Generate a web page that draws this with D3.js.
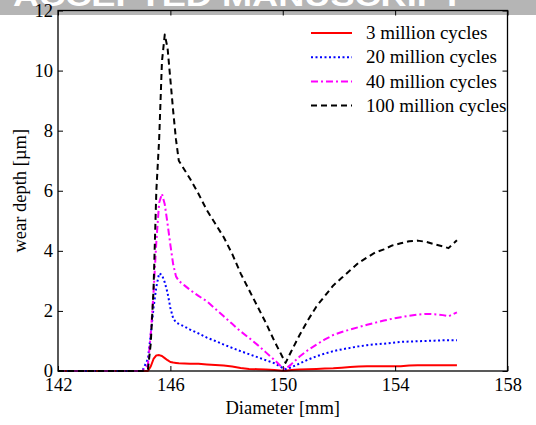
<!DOCTYPE html>
<html>
<head>
<meta charset="utf-8">
<script src="https://cdn.jsdelivr.net/npm/d3@7"></script>
<style>
  html, body { margin: 0; padding: 0; background: #fff; }
  svg { display: block; }
  text { font-family: "Liberation Serif", "Times New Roman", serif; fill: #000; }
</style>
</head>
<body>
<svg id="chart" width="536" height="425"></svg>
<script>
// ---- data ----
const diameter = [142, 145.0, 145.2, 145.3, 145.4, 145.5, 145.6, 145.7, 145.8, 145.9, 146.0, 146.1, 146.2, 146.3, 146.5, 146.7,
  147.0, 147.3, 147.6, 147.9, 148.2, 148.5, 148.8, 149.1, 149.4, 149.7, 150.0, 150.1, 150.3, 150.6, 150.9, 151.2, 151.5,
  151.8, 152.1, 152.4, 152.7, 153.0, 153.3, 153.6, 153.9, 154.2, 154.5, 154.8, 155.1, 155.4, 155.7, 155.9, 156.2];

const wear3M = [0, 0, 0.0, 0.15, 0.4, 0.52, 0.53, 0.5, 0.43, 0.36, 0.3, 0.28, 0.27, 0.26, 0.25, 0.24,
  0.24, 0.22, 0.2, 0.18, 0.15, 0.1, 0.07, 0.06, 0.05, 0.03, 0.01, 0.01, 0.03, 0.05, 0.06, 0.07, 0.08,
  0.09, 0.11, 0.13, 0.15, 0.16, 0.16, 0.16, 0.16, 0.16, 0.18, 0.19, 0.19, 0.19, 0.19, 0.19, 0.19];

const wear20M = [0, 0, 0.4, 1.2, 2.1, 2.8, 3.25, 3.2, 2.95, 2.6, 2.1, 1.75, 1.62, 1.57, 1.48, 1.38,
  1.25, 1.11, 1.0, 0.88, 0.77, 0.66, 0.56, 0.46, 0.36, 0.26, 0.1, 0.06, 0.12, 0.25, 0.38, 0.49, 0.58,
  0.66, 0.72, 0.77, 0.82, 0.86, 0.89, 0.91, 0.94, 0.97, 0.98, 0.99, 1.0, 1.01, 1.02, 1.02, 1.02];

const wear40M = [0, 0, 0.2, 1.2, 2.6, 4.3, 5.6, 5.9, 5.55, 4.9, 4.2, 3.55, 3.15, 3.0, 2.85, 2.7,
  2.5, 2.32, 2.07, 1.82, 1.57, 1.32, 1.1, 0.87, 0.62, 0.37, 0.1, 0.07, 0.22, 0.48, 0.7, 0.88, 1.05,
  1.2, 1.3, 1.38, 1.46, 1.54, 1.61, 1.68, 1.74, 1.79, 1.84, 1.88, 1.9, 1.89, 1.86, 1.82, 1.95];

const wear100M = [0, 0, 0.05, 0.9, 2.7, 6.0, 7.7, 10.3, 11.2, 10.75, 9.7, 8.65, 7.7, 7.0, 6.7, 6.4,
  5.9, 5.35, 4.9, 4.45, 3.9, 3.25, 2.7, 2.15, 1.6, 1.0, 0.45, 0.27, 0.65, 1.2, 1.7, 2.15, 2.5,
  2.85, 3.1, 3.35, 3.6, 3.78, 3.95, 4.05, 4.18, 4.25, 4.32, 4.34, 4.3, 4.22, 4.15, 4.09, 4.35];

const seriesNames = ["3 million cycles", "20 million cycles", "40 million cycles", "100 million cycles"];
const seriesValues = [wear3M, wear20M, wear40M, wear100M];
const seriesColors = ["#ff0000", "#0000ff", "#ff00ff", "#000000"];
const seriesDash = [null, "2,2.5", "7,3,2,3", "6,4"];

const xTicks = [142, 146, 150, 154, 158];
const yTicks = [0, 2, 4, 6, 8, 10, 12];
const xLabel = "Diameter [mm]";
const yLabel = "wear depth [\u00b5m]";
const banner = "ACCEPTED MANUSCRIPT";

// ---- layout ----
const svg = d3.select("#chart");
const L = 58, R = 507.5, T = 10.5, B = 371;
const x = d3.scaleLinear().domain([142, 158]).range([L, R]);
const y = d3.scaleLinear().domain([0, 12]).range([B, T]);

// banner
svg.append("rect").attr("x", 0).attr("y", 0).attr("width", 536).attr("height", 15).attr("fill", "#b5b5b5");
svg.append("text").text(banner)
  .attr("x", 13).attr("y", 6)
  .attr("textLength", 450).attr("lengthAdjust", "spacingAndGlyphs")
  .style("font-family", "'Liberation Sans', Arial, sans-serif")
  .style("font-weight", "bold").style("font-size", "30px").style("fill", "#fff");

// lines
const line = d3.line().x((d, i) => x(diameter[i])).y(d => y(d));
const g = svg.append("g");
seriesValues.forEach((vals, k) => {
  g.append("path").datum(vals)
    .attr("d", line)
    .attr("fill", "none")
    .attr("stroke", seriesColors[k])
    .attr("stroke-width", 2)
    .attr("stroke-dasharray", seriesDash[k])
    .attr("stroke-linejoin", "round");
});

// axes
const fs = "18.5px";
const ax = svg.append("g").attr("transform", `translate(0,${B})`)
  .call(d3.axisBottom(x).tickValues(xTicks).tickFormat(d3.format("d")).tickSizeInner(-5).tickSizeOuter(0).tickPadding(7));
const axT = svg.append("g").attr("transform", `translate(0,${T})`)
  .call(d3.axisTop(x).tickValues(xTicks).tickFormat("").tickSizeInner(-5).tickSizeOuter(0));
const ay = svg.append("g").attr("transform", `translate(${L},0)`)
  .call(d3.axisLeft(y).tickValues(yTicks).tickFormat(d3.format("d")).tickSizeInner(-5).tickSizeOuter(0).tickPadding(5));
const ayR = svg.append("g").attr("transform", `translate(${R},0)`)
  .call(d3.axisRight(y).tickValues(yTicks).tickFormat("").tickSizeInner(-5).tickSizeOuter(0));
[ax, axT, ay, ayR].forEach(a => {
  a.select(".domain").remove();
  a.selectAll("line").attr("stroke", "#000").attr("stroke-width", 1);
  a.selectAll("text").style("font-size", fs).style("font-family", "'Liberation Serif', 'Times New Roman', serif").attr("fill", "#000");
});
svg.append("rect").attr("x", L).attr("y", T).attr("width", R - L).attr("height", B - T)
  .attr("fill", "none").attr("stroke", "#000").attr("stroke-width", 1.3);

// axis labels
svg.append("text").text(xLabel).attr("x", (L + R) / 2).attr("y", 414)
  .attr("text-anchor", "middle").style("font-size", fs);
svg.append("text").text(yLabel)
  .attr("transform", `translate(26,${(T + B) / 2}) rotate(-90)`)
  .attr("text-anchor", "middle").style("font-size", fs);

// legend
const lg = svg.append("g");
seriesNames.forEach((name, k) => {
  const yy = 33 + k * 24.2;
  lg.append("line").attr("x1", 311).attr("x2", 352).attr("y1", yy).attr("y2", yy)
    .attr("stroke", seriesColors[k]).attr("stroke-width", 2).attr("stroke-dasharray", seriesDash[k]);
  lg.append("text").text(name).attr("x", 366).attr("y", yy).attr("dy", "0.33em").style("font-size", "19px");
});
</script>
</body>
</html>
